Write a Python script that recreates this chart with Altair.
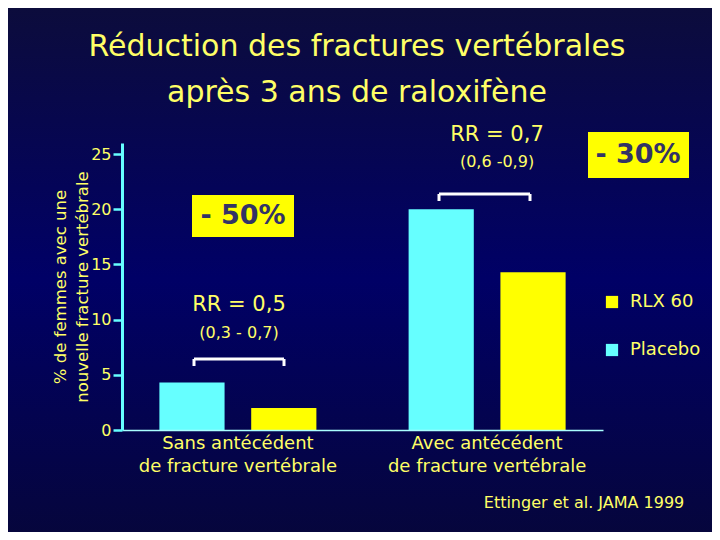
import altair as alt
import pandas as pd

# ---- data ----
groups = ["Sans antécédent|de fracture vertébrale", "Avec antécédent|de fracture vertébrale"]
treatments = ["Placebo", "RLX 60"]
placebo = [4.3, 20.0]
rlx60 = [2.0, 14.3]
y_ticks = [0, 5, 10, 15, 20, 25]

title_lines = ["Réduction des fractures vertébrales", "après 3 ans de raloxifène"]
rr_labels = ["RR = 0,5", "RR = 0,7"]
ci_labels = ["(0,3 - 0,7)", "(0,6 -0,9)"]
reduction_labels = ["- 50%", "- 30%"]
source_label = "Ettinger et al. JAMA 1999"

YELLOW_TXT = "#ffff66"
CYAN = "#66ffff"
YELLOW = "#ffff00"
FONT = "DejaVu Sans"

rows = []
for g, p, r in zip(groups, placebo, rlx60):
    rows.append({"group": g, "treatment": "Placebo", "value": p})
    rows.append({"group": g, "treatment": "RLX 60", "value": r})
df = pd.DataFrame(rows)
one = pd.DataFrame({"a": [0]})

W, H = 481, 287
PAD_L, PAD_T = 114, 135

bg = alt.Chart(one).mark_rect(
    fill=alt.LinearGradient(
        gradient="linear",
        stops=[alt.GradientStop(color="#0c0c3c", offset=0),
               alt.GradientStop(color="#000066", offset=0.5),
               alt.GradientStop(color="#06063a", offset=1)],
        x1=0, x2=0, y1=0, y2=1),
).encode(x=alt.value(-PAD_L), x2=alt.value(720 - PAD_L), y=alt.value(-PAD_T), y2=alt.value(540 - PAD_T))

bars = alt.Chart(df).mark_bar().encode(
    x=alt.X("group:N", sort=groups,
            scale=alt.Scale(paddingInner=0.37, paddingOuter=0.15),
            axis=alt.Axis(title=None, labelAngle=0, ticks=False, domainColor="#aaffff", domainWidth=1.5,
                          labelColor=YELLOW_TXT, labelFontSize=18, labelFont=FONT, zindex=2, labelLimit=400,
                          labelExpr="split(datum.label, '|')", labelLineHeight=23, labelPadding=4)),
    xOffset=alt.XOffset("treatment:N", sort=treatments, scale=alt.Scale(paddingInner=0.29, paddingOuter=0)),
    y=alt.Y("value:Q", scale=alt.Scale(domain=[0, 26], nice=False),
            axis=alt.Axis(values=y_ticks, grid=False, domainColor=CYAN, domainWidth=3, zindex=2,
                          tickColor=CYAN, tickWidth=2.5, tickSize=9,
                          labelColor=YELLOW_TXT, labelFontSize=16, labelFont=FONT, labelPadding=2,
                          title=["% de femmes avec une", "nouvelle fracture vertébrale"],
                          titleColor=YELLOW_TXT, titleFontSize=16.5, titleFont=FONT, titleFontWeight="normal",
                          titlePadding=0, titleLineHeight=22)),
    color=alt.Color("treatment:N",
                    scale=alt.Scale(domain=["RLX 60", "Placebo"], range=[YELLOW, CYAN]),
                    legend=alt.Legend(orient="none", legendX=481, legendY=150, title=None,
                                      symbolType="square", symbolSize=150, symbolStrokeWidth=0,
                                      labelColor=YELLOW_TXT, labelFontSize=18, labelFont=FONT,
                                      labelOffset=9, rowPadding=30)),
)


def txt(s, x, y, size, color=YELLOW_TXT, weight="normal", align="center"):
    return alt.Chart(pd.DataFrame({"t": [s]})).mark_text(
        font=FONT, fontSize=size, color=color, fontWeight=weight, align=align, baseline="middle"
    ).encode(x=alt.value(x), y=alt.value(y), text="t:N")


def box(x1, x2, y1, y2):
    return alt.Chart(one).mark_rect(color=YELLOW).encode(
        x=alt.value(x1), x2=alt.value(x2), y=alt.value(y1), y2=alt.value(y2))


def bracket(x1, x2, y, drop):
    top = alt.Chart(one).mark_rule(color="white", strokeWidth=3).encode(
        x=alt.value(x1), x2=alt.value(x2), y=alt.value(y))
    left = alt.Chart(one).mark_rule(color="white", strokeWidth=3).encode(
        x=alt.value(x1), y=alt.value(y), y2=alt.value(y + drop))
    right = alt.Chart(one).mark_rule(color="white", strokeWidth=3).encode(
        x=alt.value(x2), y=alt.value(y), y2=alt.value(y + drop))
    return [top, left, right]


layers = [bg, bars]
layers += bracket(72, 162, 216, 7)
layers += bracket(317, 408, 51, 7)
layers += [
    txt(title_lines[0], 235, -96, 30),
    txt(title_lines[1], 235, -50, 30),
    txt(rr_labels[0], 117, 162, 21),
    txt(ci_labels[0], 117, 190, 16),
    txt(rr_labels[1], 375, -8, 21),
    txt(ci_labels[1], 375, 19, 16),
    box(70, 172, 52, 94),
    txt(reduction_labels[0], 121, 73, 27, color="#333366", weight="bold"),
    box(466, 567, -11, 35),
    txt(reduction_labels[1], 516, 12, 27, color="#333366", weight="bold"),
    txt(source_label, 462, 360, 16),
]

chart = alt.layer(*layers).properties(
    width=W, height=H,
    autosize=alt.AutoSizeParams(type="none"),
    padding={"left": PAD_L, "top": PAD_T, "right": 720 - 16 - PAD_L - W, "bottom": 540 - 16 - PAD_T - H},
    background="#000055",
).configure_view(strokeWidth=0)

chart.save("out.html", embed_options={"renderer": "svg", "actions": False})
